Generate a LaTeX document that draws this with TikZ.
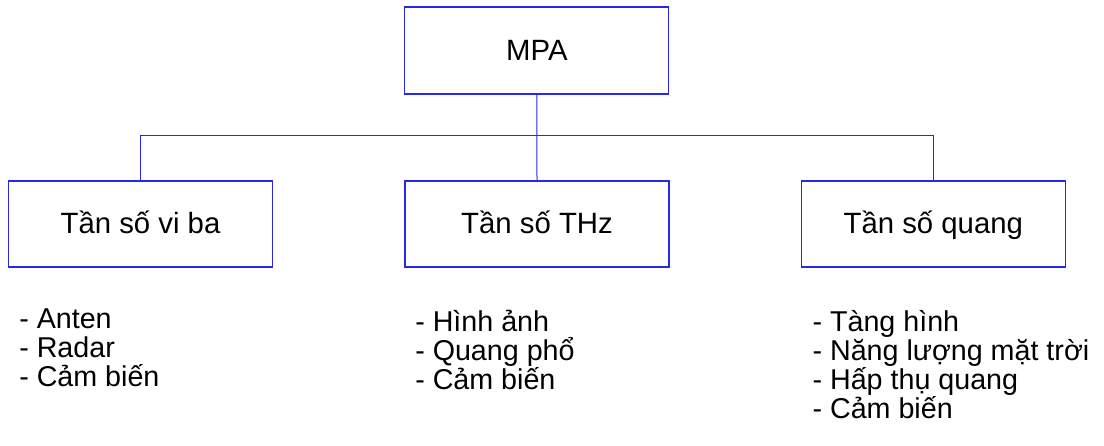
\documentclass[tikz,border=0pt]{standalone}
\usepackage{fontspec}
\setmainfont{Liberation Sans}
\usetikzlibrary{calc}
\definecolor{linkblue}{RGB}{40,40,235}
\tikzset{
	box/.style={draw=linkblue, line width=0.8pt, minimum width=198pt, minimum height=64.5pt, inner sep=0pt, text height=19.6pt, text depth=5pt, font=\fontsize{22}{26}\selectfont},
	link/.style={draw=linkblue, line width=0.75pt},
	uses/.style={anchor=base west, align=left, inner sep=0pt, font=\fontsize{21.5}{21.9}\selectfont, execute at begin node={\lineskiplimit=-100pt}}
}

\begin{document}
\begin{tikzpicture}[x=0.75pt, y=-0.75pt]
			%%%%% START %%%%%
			\useasboundingbox (0, 0) rectangle (1104, 446);
			
			\node[box, minimum height=65.25pt] (mpa) at (536.9, 50.5) {MPA};
			
			\node[box] (vib) at (140.5, 224) {Tần số vi ba};
			\node[box] (thz) at (537, 224) {Tần số THz};
			\node[box] (quang) at (933.3, 224) {Tần số quang};
			
			\coordinate (bus) at (537, 135.7);
			\draw[link] (mpa.south) -- (thz.north);
			\draw[link] (vib.north) |- (bus) -| (quang.north);
			
			% anchored at the baseline of the last line
			\node[uses] (vibuses) at (19, 386.7) {- Anten\\- Radar\\- Cảm biến};
			\node[uses] (thzuses) at (415, 389.4) {- Hình ảnh\\- Quang phổ\\- Cảm biến};
			\node[uses] (quanguses) at (812.3, 418.6) {- Tàng hình\\- Năng lượng mặt trời\\- Hấp thụ quang\\- Cảm biến};
			%%%%% END %%%%%
		\end{tikzpicture}
\end{document}
